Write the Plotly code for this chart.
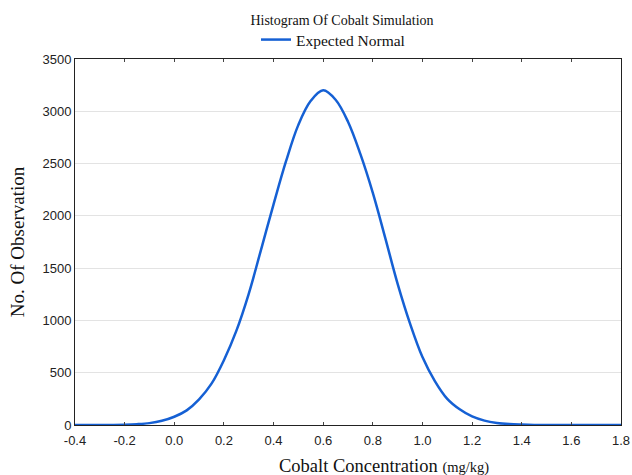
import plotly.graph_objects as go

concentration = [-0.4, -0.35, -0.3, -0.25, -0.2, -0.15, -0.1, -0.05, 0.0, 0.05,
                 0.1, 0.15, 0.2, 0.25, 0.3, 0.35, 0.4, 0.45, 0.5, 0.55,
                 0.6, 0.65, 0.7, 0.75, 0.8, 0.85, 0.9, 0.95, 1.0, 1.05,
                 1.1, 1.15, 1.2, 1.25, 1.3, 1.35, 1.4, 1.45, 1.5, 1.55,
                 1.6, 1.65, 1.7, 1.75, 1.8]
expected = [0, 0, 0, 1, 3, 8, 18, 40, 79, 140,
            245, 395, 620, 900, 1255, 1680, 2110, 2520, 2870, 3100,
            3200, 3110, 2900, 2590, 2220, 1790, 1350, 970, 650, 420,
            250, 150, 82, 42, 20, 9, 4, 1, 0, 0,
            0, 0, 0, 0, 0]

x_ticks = [-0.4, -0.2, 0.0, 0.2, 0.4, 0.6, 0.8, 1.0, 1.2, 1.4, 1.6, 1.8]
y_ticks = [0, 500, 1000, 1500, 2000, 2500, 3000, 3500]

fig = go.Figure()
fig.add_trace(go.Scatter(
    x=concentration, y=expected, mode="lines", name="Expected Normal",
    line=dict(color="#1560d4", width=2.5, shape="spline"),
))

fig.update_layout(
    width=632, height=475,
    margin=dict(l=75, r=11, t=59, b=50, autoexpand=False),
    paper_bgcolor="white", plot_bgcolor="white",
    title=dict(text="Histogram Of Cobalt Simulation",
               x=342 / 632, xref="container", xanchor="center",
               y=1 - 20 / 475, yref="container", yanchor="middle",
               font=dict(family="Liberation Serif", size=14, color="#111")),
    showlegend=True,
    legend=dict(orientation="h", x=(256 - 75) / 546, xanchor="left",
                yref="container", y=1 - 40 / 475, yanchor="middle",
                font=dict(family="Liberation Serif", size=15.5, color="#111"),
                bgcolor="rgba(0,0,0,0)", itemwidth=30),
    font=dict(family="Liberation Sans", size=13, color="#222"),
    annotations=[dict(
        text="Cobalt Concentration <span style='font-size:14.5px'>(mg/kg)</span>",
        xref="paper", yref="paper", x=(384 - 75) / 546, y=(425 - 466) / 366,
        xanchor="center", yanchor="middle", showarrow=False,
        font=dict(family="Liberation Serif", size=18.5, color="#111"),
    )],
)
fig.update_xaxes(
    range=[-0.4, 1.8], tickvals=x_ticks, ticktext=[f"{v:.1f}" for v in x_ticks],
    showgrid=False, zeroline=False,
    showline=True, linecolor="#222", linewidth=1, mirror="ticks",
    ticks="inside", ticklen=3, tickcolor="#444", ticklabelstandoff=3,
    tickfont=dict(family="Liberation Sans", size=13, color="#222"),
)
fig.update_yaxes(
    range=[0, 3500], tickvals=y_ticks,
    showgrid=True, gridcolor="#e3e3e3", gridwidth=1, zeroline=False,
    showline=True, linecolor="#222", linewidth=1, mirror=True,
    ticks="", tickfont=dict(family="Liberation Sans", size=13, color="#222"),
    title=dict(text="No. Of Observation",
               font=dict(family="Liberation Serif", size=19, color="#111"), standoff=12),
)

fig.write_html(
    "out.html",
    config={"displayModeBar": False},
    post_script="document.body.style.margin='0';document.body.style.overflow='hidden';",
)
